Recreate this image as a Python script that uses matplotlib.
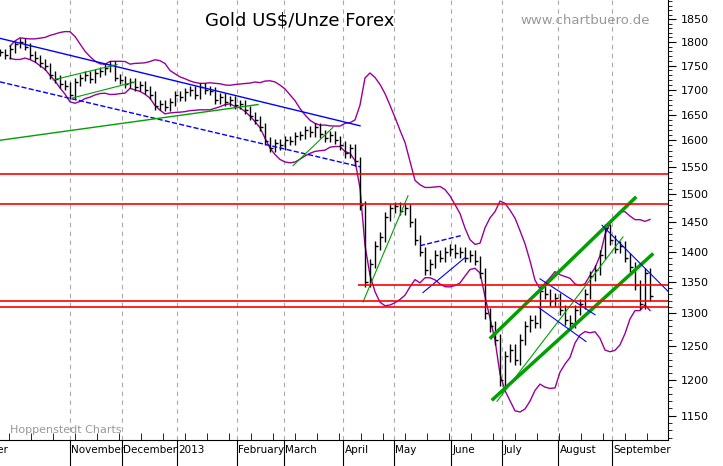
import numpy as np
import pandas as pd
import matplotlib
matplotlib.use("Agg")
import matplotlib.pyplot as plt
import matplotlib.ticker as ticker

# closes, one sample every 5 px of the original chart
closes = [1778, 1772, 1785, 1795, 1800, 1790, 1772, 1765, 1755, 1748, 1730, 1722, 1712, 1708,
          1690, 1715, 1725, 1730, 1722, 1735, 1738, 1745, 1752, 1725, 1720, 1712, 1715, 1705,
          1710, 1700, 1690, 1668, 1672, 1665, 1675, 1690, 1685, 1695, 1700, 1690, 1705, 1700,
          1697, 1680, 1685, 1675, 1680, 1670, 1672, 1660, 1648, 1640, 1625, 1598, 1585, 1595,
          1590, 1600, 1598, 1608, 1610, 1620, 1615, 1625, 1612, 1605, 1610, 1600, 1590, 1575,
          1585, 1560, 1480, 1350, 1380, 1410, 1425, 1460, 1475, 1478, 1470, 1475, 1450, 1420,
          1400, 1370, 1380, 1395, 1390, 1400, 1405, 1398, 1400, 1390, 1395, 1385, 1365, 1300,
          1280, 1260, 1200, 1235, 1245, 1230, 1260, 1280, 1290, 1285, 1335, 1330, 1320, 1325,
          1305, 1290, 1285, 1305, 1315, 1330, 1360, 1370, 1395, 1440, 1420, 1405, 1410, 1390,
          1375, 1345, 1315, 1365, 1328]

months = ["October", "November", "December", "2013", "February", "March", "April",
          "May", "June", "July", "August", "September"]
month_pos = [-7, 14, 24.4, 35.4, 47.4, 56.8, 68.6, 78.8, 90.2, 100.4, 111.6, 122.4]

# trend lines: (x0, p0, x1, p1, colour, width, style)
trend_lines = [
    (0, 1808, 72, 1628, "#0000ff", 1.0, "-"),
    (0, 1716, 72, 1550, "#0000ff", 1.0, "--"),
    (0, 1600, 51.6, 1670, "#00a000", 1.0, "-"),
    (10.6, 1720, 23.4, 1752, "#00a000", 0.8, "-"),
    (14.4, 1683, 27, 1716, "#00a000", 0.8, "-"),
    (58.6, 1552, 66.6, 1625, "#00a000", 0.8, "-"),
    (72.6, 1318, 81.6, 1497, "#00a000", 0.8, "-"),
    (84, 1410, 92.6, 1428, "#0000ff", 1.0, "--"),
    (84.6, 1333, 93, 1390, "#0000ff", 0.8, "-"),
    (98.6, 1173, 130.4, 1395, "#00a000", 2.5, "-"),
    (98.2, 1263, 127, 1493, "#00a000", 2.5, "-"),
    (99.4, 1170, 124.6, 1425, "#00a000", 0.8, "-"),
    (108, 1355, 119, 1298, "#0000ff", 0.8, "-"),
    (107.6, 1310, 117.2, 1257, "#0000ff", 0.8, "-"),
    (120.4, 1445, 133.6, 1335, "#0000ff", 0.8, "-"),
]
red_levels = [1537, 1483, 1320, 1310]
red_partial = (71.6, 1345)

fig = plt.figure(figsize=(7.23, 4.66), dpi=100)
ax = fig.add_axes([0, 26 / 466, 668 / 723, 440 / 466])

s = pd.Series(closes, dtype=float)
x = np.arange(len(s))
mid = s.rolling(12, min_periods=3).mean()
sd = s.rolling(12, min_periods=3).std()
ax.plot(x, mid + 2 * sd, color="#990099", lw=1)
ax.plot(x, mid - 2 * sd, color="#990099", lw=1)

prev = s.shift(1).fillna(s)
for i in x:
    lo = min(prev[i], s[i]) - 8
    hi = max(prev[i], s[i]) + 8
    ax.vlines(i, lo, hi, color="black", lw=1.0)
    ax.hlines(s[i], i, i + 0.5, color="black", lw=1.0)

for x0, p0, x1, p1, c, w, ls in trend_lines:
    ax.plot([x0, x1], [p0, p1], color=c, lw=w, ls=ls)
for lvl in red_levels:
    ax.axhline(lvl, color="red", lw=1.2)
ax.hlines(red_partial[1], red_partial[0], 136, color="red", lw=1.2)

ax.set_yscale("log")
ax.yaxis.tick_right()
ax.set_yticks(range(1150, 1851, 50))
ax.set_yticks(range(1120, 1891, 10), minor=True)
ax.yaxis.set_major_formatter(ticker.FormatStrFormatter("%d"))
ax.yaxis.set_minor_formatter(ticker.NullFormatter())
ax.tick_params(axis="y", labelsize=8, length=6, direction="out")
ax.tick_params(axis="y", which="minor", length=3)

ax.set_xticks(month_pos)
ax.set_xticklabels([])
ax.set_xticks(np.arange(-7, 134, 4.4), minor=True)
ax.tick_params(axis="x", length=22, direction="out")
ax.tick_params(axis="x", which="minor", length=5, direction="in")
ax.grid(axis="x", color="#aaaaaa", ls=(0, (4, 4)), lw=0.8)
ax.set_ylim(1117, 1893)
ax.set_xlim(0, 133.6)
for m, p in zip(months, month_pos):
    ax.text(p + 0.3, -0.012, m, transform=ax.get_xaxis_transform(), fontsize=7.5,
            ha="left", va="top", clip_on=False)

for sp in ["top", "left"]:
    ax.spines[sp].set_visible(False)

fig.text(300 / 723, 1 - 20 / 466, "Gold US$/Unze Forex", fontsize=13, ha="center",
         va="center")
fig.text(520 / 723, 1 - 20 / 466, "www.chartbuero.de", color="#999999", fontsize=9.5,
         va="center")
fig.text(10 / 723, 1 - 430 / 466, "Hoppenstedt Charts", color="#999999", fontsize=8,
         va="center")

fig.savefig("out.png", dpi=100)
